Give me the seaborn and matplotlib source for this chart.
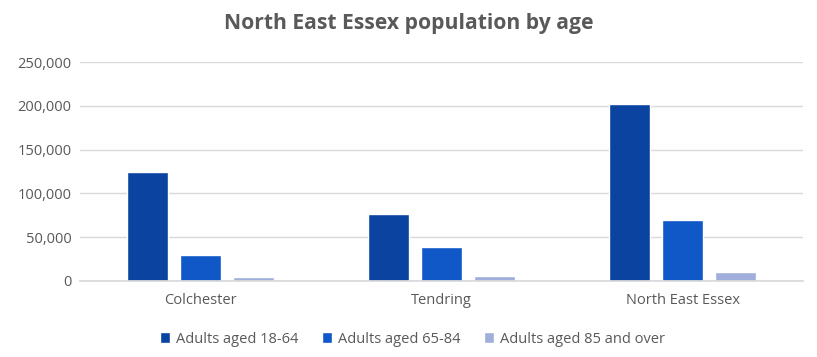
import matplotlib
matplotlib.use("Agg", force=True)
import matplotlib.pyplot as plt
import pandas as pd
import seaborn as sns
from matplotlib.ticker import FuncFormatter

areas = ["Colchester", "Tendring", "North East Essex"]
groups = ["Adults aged 18-64", "Adults aged 65-84", "Adults aged 85 and over"]
aged_18_64 = [124200, 77000, 202700]
aged_65_84 = [29700, 39300, 70100]
aged_85_plus = [4000, 5400, 10000]
colors = ["#0A43A0", "#1057C8", "#A0AEDB"]

df = pd.DataFrame({
    "area": areas * 3,
    "group": [g for g in groups for _ in areas],
    "population": aged_18_64 + aged_65_84 + aged_85_plus,
})

sns.set_theme(style="white")
plt.rcParams["font.family"] = ["Open Sans", "DejaVu Sans"]

fig, ax = plt.subplots(figsize=(8.17, 3.57), dpi=100)
fig.subplots_adjust(left=0.098, right=0.983, top=0.826, bottom=0.213)

sns.barplot(data=df, x="area", y="population", hue="group", palette=colors,
            width=0.66, gap=0.23, ax=ax, legend=True, saturation=1)

ax.set_ylim(0, 250000)
ax.set_yticks(range(0, 250001, 50000))
ax.yaxis.set_major_formatter(FuncFormatter(lambda v, _: f"{int(v):,}"))
ax.grid(axis="y", color="#D9D9D9", linewidth=1)
ax.set_axisbelow(True)
for s in ["top", "right", "left"]:
    ax.spines[s].set_visible(False)
ax.spines["bottom"].set_color("#D9D9D9")
ax.tick_params(axis="y", length=0, labelsize=10.5, colors="#595959", pad=6)
ax.tick_params(axis="x", length=0, labelsize=10.5, colors="#595959", pad=9)
ax.set_xlabel("")
ax.set_ylabel("")

fig.suptitle("North East Essex population by age", x=0.5, y=0.935, fontsize=15.2,
             fontweight="bold", color="#595959", va="center")

ax.get_legend().remove()
handles, labels = ax.get_legend_handles_labels()
fig.legend(handles, labels, loc="center", bbox_to_anchor=(0.505, 0.05), ncol=3,
           frameon=False, fontsize=10.5, handlelength=0.7, handleheight=0.7,
           columnspacing=1.6, handletextpad=0.4, labelcolor="#595959")

fig.savefig("out.png", dpi=100)
